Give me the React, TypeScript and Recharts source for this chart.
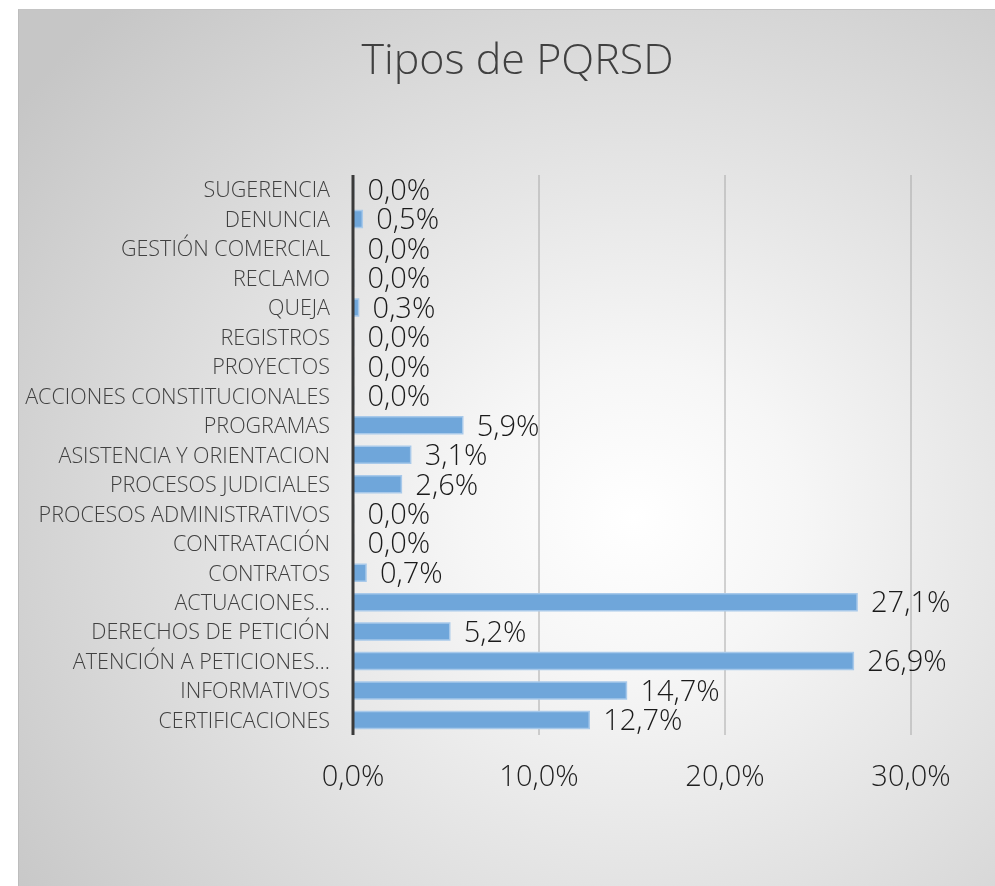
import { BarChart, Bar, XAxis, YAxis, CartesianGrid, LabelList } from "recharts";

const categories = [
  "SUGERENCIA",
  "DENUNCIA",
  "GESTIÓN COMERCIAL",
  "RECLAMO",
  "QUEJA",
  "REGISTROS",
  "PROYECTOS",
  "ACCIONES CONSTITUCIONALES",
  "PROGRAMAS",
  "ASISTENCIA Y ORIENTACION",
  "PROCESOS JUDICIALES",
  "PROCESOS ADMINISTRATIVOS",
  "CONTRATACIÓN",
  "CONTRATOS",
  "ACTUACIONES…",
  "DERECHOS DE PETICIÓN",
  "ATENCIÓN A PETICIONES…",
  "INFORMATIVOS",
  "CERTIFICACIONES",
];

const percents = [
  0.0, 0.5, 0.0, 0.0, 0.3, 0.0, 0.0, 0.0, 5.9, 3.1, 2.6, 0.0, 0.0, 0.7, 27.1,
  5.2, 26.9, 14.7, 12.7,
];

const xTicks = [0, 10, 20, 30];

const data = categories.map((name, i) => ({ name, value: percents[i] }));

const FONT = '"Open Sans", "DejaVu Sans Condensed", sans-serif';
const txt = { fontFamily: FONT, fontWeight: 300 } as const;

function fmtPct(v: number) {
  return `${Number(v).toFixed(1).replace(".", ",")}%`;
}

export default function App() {
  return (
    <div
      style={{
        position: "fixed",
        left: 18,
        top: 9,
        width: 977,
        height: 877,
        borderLeft: "1px solid #bdbdbd",
        borderTop: "1px solid #c4c4c4",
        boxSizing: "border-box",
        background:
          "radial-gradient(ellipse 78% 80% at 63% 58%, #ffffff 0%, #f6f6f6 22%, #c6c6c6 100%)",
      }}
    >
      <div
        style={{
          ...txt,
          position: "absolute",
          left: 0,
          width: 997,
          top: 18,
          textAlign: "center",
          fontSize: 43,
          color: "#404040",
          lineHeight: "60px",
        }}
      >
        Tipos de PQRSD
      </div>
      <BarChart
        width={976}
        height={876}
        data={data}
        layout="vertical"
        margin={{ top: 166, right: 83, bottom: 90, left: 0 }}
        barSize={17}
        style={{ position: "absolute", left: -1, top: -1 }}
      >
        <CartesianGrid horizontal={false} stroke="#a8a8a8" strokeWidth={1} />
        <Bar
          dataKey="value"
          fill="#6fa6da"
          stroke="#a8c9ea"
          strokeWidth={1.5}
          minPointSize={0.5}
          isAnimationActive={false}
        >
          <LabelList
            dataKey="value"
            position="right"
            offset={14}
            formatter={(v: any) => fmtPct(v)}
            style={{ ...txt, fontSize: 29, fill: "#1a1a1a" }}
          />
        </Bar>
        <XAxis
          type="number"
          domain={[0, 30]}
          ticks={xTicks}
          tickFormatter={fmtPct}
          axisLine={false}
          tickLine={false}
          tickSize={0}
          tickMargin={30}
          height={60}
          tick={{ ...txt, fontSize: 29, fill: "#1f1f1f" }}
        />
        <YAxis
          type="category"
          dataKey="name"
          width={335}
          interval={0}
          tickLine={false}
          tickSize={0}
          tickMargin={23}
          axisLine={{ stroke: "#3a3a3a", strokeWidth: 3 }}
          tick={{ ...txt, fontSize: 21.5, fill: "#404040" }}
        />
      </BarChart>
    </div>
  );
}
